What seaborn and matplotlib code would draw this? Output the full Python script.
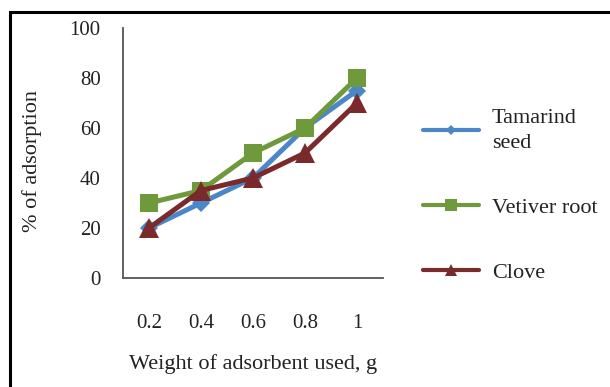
import matplotlib
matplotlib.use("Agg")
import matplotlib.pyplot as plt
from matplotlib.patches import Rectangle
from matplotlib.lines import Line2D
import seaborn as sns
import pandas as pd

# Adsorbent doses (g) and percentage adsorption for each material
weights = ["0.2", "0.4", "0.6", "0.8", "1"]
tamarind_seed = [20, 30, 40, 60, 75]
vetiver_root = [30, 35, 50, 60, 80]
clove = [20, 35, 40, 50, 70]
series_names = ["Tamarind seed", "Vetiver root", "Clove"]
y_ticks = [0, 20, 40, 60, 80, 100]

colors = ["#4A86C8", "#6F9A3C", "#7A2A2A"]
markers = ["D", "s", "^"]
marker_sizes = [9, 13.5, 14]

df = pd.DataFrame({
    "weight": weights * 3,
    "adsorption": tamarind_seed + vetiver_root + clove,
    "material": [n for n in series_names for _ in weights],
})

sns.set_theme(style="white")
plt.rcParams["font.family"] = ["Liberation Serif", "DejaVu Serif"]

fig = plt.figure(figsize=(6.1, 3.87), dpi=100)
ax = fig.add_axes([123 / 610, 1 - 278 / 387, 260 / 610, 250 / 387])

for name, col, mk, ms in zip(series_names, colors, markers, marker_sizes):
    sns.lineplot(data=df[df["material"] == name], x="weight", y="adsorption",
                 color=col, marker=mk, markersize=ms, markeredgewidth=0,
                 linewidth=3.6, ax=ax, legend=False, sort=False)

ax.set_xlim(-0.5, 4.5)
ax.set_ylim(0, 100)
ax.set_yticks(y_ticks)
ax.set_xticks(range(len(weights)))
ax.set_xticklabels(weights)
ax.tick_params(axis="both", length=0, labelsize=15, colors="#222222")
ax.tick_params(axis="y", pad=16)
ax.tick_params(axis="x", pad=26)
for side in ["top", "right"]:
    ax.spines[side].set_visible(False)
for side in ["left", "bottom"]:
    ax.spines[side].set_color("#555555")
    ax.spines[side].set_linewidth(1.3)

ax.set_xlabel("Weight of adsorbent used, g", fontsize=16, labelpad=15, color="#222222")
ax.set_ylabel("% of adsorption", fontsize=16, color="#222222")
ax.yaxis.set_label_coords(-81 / 260, 0.47)

handles = [Line2D([], [], color=c, marker=m, markersize=s * 0.6, linewidth=3,
                  markeredgewidth=0)
           for c, m, s in zip(colors, markers, marker_sizes)]
labels = ["Tamarind\nseed", "Vetiver root", "Clove"]
leg = fig.legend(handles, labels, loc="center left",
                 bbox_to_anchor=(403 / 610, 1 - 196 / 387), frameon=False,
                 fontsize=16, handlelength=2.5, handletextpad=0.6,
                 labelspacing=2.0, labelcolor="#222222")
leg.get_texts()[0].set_linespacing(1.45)

# Outer frame
fig.patches.append(Rectangle((10 / 610, -0.2), 1.2, 1 - 12 / 387 + 0.2,
                             transform=fig.transFigure, fill=False,
                             edgecolor="black", linewidth=2.2))

fig.savefig("out.png", dpi=100)
